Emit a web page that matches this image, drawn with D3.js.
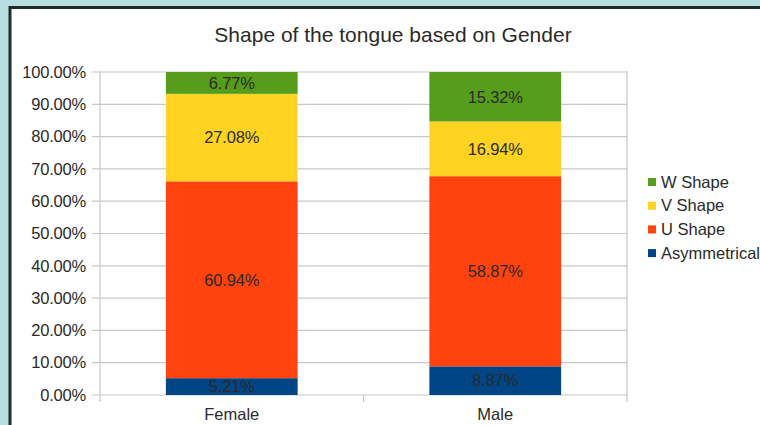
<!DOCTYPE html>
<html>
<head>
<meta charset="utf-8">
<script src="https://cdn.jsdelivr.net/npm/d3@7"></script>
<style>
  body { margin: 0; background: #b7dee1; }
  svg { display: block; }
  text { font-family: "Liberation Sans", Arial, sans-serif; fill: #2a2a2a; }
</style>
</head>
<body>
<div id="chart"></div>
<script>
// categories and series (percent of each gender)
var genders = ["Female", "Male"];
var shapes = ["Asymmetrical", "U Shape", "V Shape", "W Shape"];
var asymmetrical = [5.21, 8.87];
var uShape = [60.94, 58.87];
var vShape = [27.08, 16.94];
var wShape = [6.77, 15.32];
var yTicks = [0, 10, 20, 30, 40, 50, 60, 70, 80, 90, 100];
var colors = ["#004586", "#ff420e", "#ffd320", "#579d1c"];

var W = 760, H = 425;
var margin = {top: 72, right: 133, bottom: 30, left: 100},
    width = W - margin.left - margin.right,
    height = H - margin.top - margin.bottom;

var rows = genders.map(function (g, i) {
    return {gender: g, "Asymmetrical": asymmetrical[i], "U Shape": uShape[i],
            "V Shape": vShape[i], "W Shape": wShape[i]};
});
var series = d3.stack().keys(shapes)(rows);

var svg = d3.select("#chart").append("svg")
    .attr("width", W)
    .attr("height", H);

// white panel with dark frame
svg.append("rect")
    .attr("x", 10).attr("y", 7.5)
    .attr("width", W + 20).attr("height", H + 20)
    .attr("fill", "#fff")
    .attr("stroke", "#1f2b2b")
    .attr("stroke-width", 3);

svg.append("text")
    .attr("x", 393).attr("y", 42)
    .attr("text-anchor", "middle")
    .style("font-size", "21px")
    .text("Shape of the tongue based on Gender");

var g = svg.append("g")
    .attr("transform", "translate(" + margin.left + "," + margin.top + ")");

var x = d3.scaleBand().domain(genders).range([0, width]).paddingInner(0).paddingOuter(0);
var y = d3.scaleLinear().domain([0, 100]).range([height, 0]);

// gridlines
g.selectAll(".grid")
    .data(yTicks)
    .enter().append("line")
    .attr("x1", -8).attr("x2", width)
    .attr("y1", function (d) { return y(d); })
    .attr("y2", function (d) { return y(d); })
    .attr("stroke", "#c8c8c8")
    .attr("stroke-width", 1.2);

// y labels
g.selectAll(".ylab")
    .data(yTicks)
    .enter().append("text")
    .attr("x", -14)
    .attr("y", function (d) { return y(d); })
    .attr("dy", "0.35em")
    .attr("text-anchor", "end")
    .style("font-size", "16.5px")
    .style("letter-spacing", "-0.2px")
    .text(function (d) { return d.toFixed(2) + "%"; });

// vertical axis lines and category ticks
var vx = [0, width / 2, width];
g.selectAll(".vtick")
    .data(vx)
    .enter().append("line")
    .attr("x1", function (d) { return d; })
    .attr("x2", function (d) { return d; })
    .attr("y1", function (d, i) { return i === 1 ? height : -1; })
    .attr("y2", height + 7)
    .attr("stroke", "#c8c8c8")
    .attr("stroke-width", 1.2);

// bars
var barW = x.bandwidth() * 0.5;
var layer = g.selectAll(".layer")
    .data(series)
    .enter().append("g")
    .attr("fill", function (d, i) { return colors[i]; });

layer.selectAll("rect")
    .data(function (d) { return d; })
    .enter().append("rect")
    .attr("x", function (d) { return x(d.data.gender) + (x.bandwidth() - barW) / 2; })
    .attr("y", function (d) { return y(d[1]); })
    .attr("width", barW)
    .attr("height", function (d) { return y(d[0]) - y(d[1]); });

layer.selectAll("text")
    .data(function (d) { return d; })
    .enter().append("text")
    .attr("x", function (d) { return x(d.data.gender) + x.bandwidth() / 2; })
    .attr("y", function (d) { return (y(d[0]) + y(d[1])) / 2; })
    .attr("dy", "0.35em")
    .attr("text-anchor", "middle")
    .style("font-size", "16.5px")
    .style("letter-spacing", "-0.2px")
    .text(function (d) { return (d[1] - d[0]).toFixed(2) + "%"; });

// category labels
g.selectAll(".xlab")
    .data(genders)
    .enter().append("text")
    .attr("x", function (d) { return x(d) + x.bandwidth() / 2; })
    .attr("y", height + 25)
    .attr("text-anchor", "middle")
    .style("font-size", "16.5px")
    .text(function (d) { return d; });

// legend
var legend = svg.append("g")
    .attr("transform", "translate(648,182)");
var legendItems = shapes.slice().reverse();
var leg = legend.selectAll(".item")
    .data(legendItems)
    .enter().append("g")
    .attr("transform", function (d, i) { return "translate(0," + (i * 23.7) + ")"; });
leg.append("rect")
    .attr("x", 0).attr("y", -4)
    .attr("width", 8).attr("height", 8)
    .attr("fill", function (d) { return colors[shapes.indexOf(d)]; });
leg.append("text")
    .attr("x", 13)
    .attr("dy", "0.35em")
    .style("font-size", "16.5px")
    .text(function (d) { return d; });
</script>
</body>
</html>
